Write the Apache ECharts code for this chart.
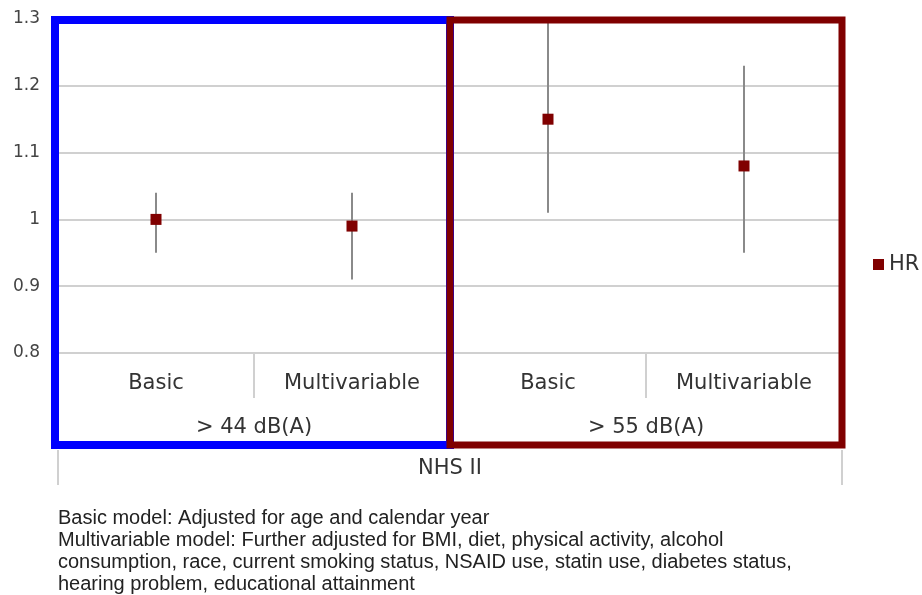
<!DOCTYPE html>
<html>
<head>
<meta charset="utf-8">
<script src="https://cdn.jsdelivr.net/npm/echarts@6/dist/echarts.min.js"></script>
<style>html,body{margin:0;padding:0;background:#fff}#c{width:922px;height:595px}</style>
</head>
<body>
<div id="c"></div>
<script>
const categories = ['Basic', 'Multivariable', 'Basic', 'Multivariable'];
const groups = ['> 44 dB(A)', '> 55 dB(A)'];
const cohort = ['NHS II'];
const hr = [1.00, 0.99, 1.15, 1.08];
const lower = [0.95, 0.91, 1.01, 0.95];
const upper = [1.04, 1.04, 1.30, 1.23];
const footnote = [
  'Basic model: Adjusted for age and calendar year',
  'Multivariable model: Further adjusted for BMI, diet, physical activity, alcohol',
  'consumption, race, current smoking status, NSAID use, statin use, diabetes status,',
  'hearing problem, educational attainment'
];

const FONT = 'DejaVu Sans';
const chart = echarts.init(document.getElementById('c'), null, {renderer: 'canvas'});
const gridLeft = 58, gridRight = 80, gridTop = 19, gridBottom = 242;

chart.setOption({
  animation: false,
  backgroundColor: '#fff',
  textStyle: {fontFamily: FONT},
  title: {
    text: footnote.join('\n'),
    left: 53, top: 502,
    textStyle: {fontFamily: "'Liberation Sans Narrow', 'Liberation Sans', sans-serif", fontSize: 20, fontWeight: 'normal', color: '#222', lineHeight: 22}
  },
  legend: {
    orient: 'vertical', left: 868, top: 249, itemGap: 5,
    itemWidth: 11, itemHeight: 11, icon: 'rect',
    data: ['HR'],
    textStyle: {fontFamily: FONT, fontSize: 21, color: '#333'}
  },
  grid: {left: gridLeft, right: gridRight, top: gridTop, bottom: gridBottom, containLabel: false},
  xAxis: [
    {
      type: 'category', data: categories, position: 'bottom', offset: 0,
      axisLine: {show: true, lineStyle: {color: '#d0d0d0', width: 2}},
      axisTick: {show: true, length: 45, lineStyle: {color: '#d0d0d0', width: 2}},
      axisLabel: {margin: 20, fontSize: 21, color: '#333', fontFamily: FONT}
    },
    {
      type: 'category', data: groups, position: 'bottom', offset: 0,
      axisLine: {show: false}, axisTick: {show: false},
      axisLabel: {margin: 64, fontSize: 21, color: '#333', fontFamily: FONT}
    },
    {
      type: 'category', data: cohort, position: 'bottom', offset: 97,
      axisLine: {show: false},
      axisTick: {show: true, length: 35, lineStyle: {color: '#d0d0d0', width: 2}},
      axisLabel: {margin: 8, fontSize: 21, color: '#333', fontFamily: FONT}
    }
  ],
  yAxis: {
    type: 'value', min: 0.8, max: 1.3, interval: 0.1,
    axisLine: {show: false}, axisTick: {show: false},
    axisLabel: {margin: 18, fontSize: 17, color: '#444', fontFamily: FONT,
      formatter: v => String(Math.round(v * 10) / 10)},
    splitLine: {show: true, lineStyle: {color: '#d0d0d0', width: 2}}
  },
  series: [
    {
      name: 'CI', type: 'custom', xAxisIndex: 0, yAxisIndex: 0, z: 2,
      data: categories.map((c, i) => [i, lower[i], upper[i]]),
      renderItem: function (params, api) {
        const x = api.value(0);
        const lo = api.coord([x, api.value(1)]);
        const hi = api.coord([x, api.value(2)]);
        return {type: 'line', shape: {x1: lo[0], y1: lo[1], x2: hi[0], y2: hi[1]},
          style: {stroke: '#8a8a8a', lineWidth: 2}};
      }
    },
    {
      name: 'HR', type: 'scatter', xAxisIndex: 0, yAxisIndex: 0, z: 3,
      symbol: 'rect', symbolSize: 11,
      itemStyle: {color: '#800000', opacity: 1},
      data: hr.map((v, i) => [i, v])
    }
  ]
});

// Outline boxes around each exposure group, positioned from the axes
const half = (chart.convertToPixel({xAxisIndex: 0}, 1) - chart.convertToPixel({xAxisIndex: 0}, 0)) / 2;
const xStart = chart.convertToPixel({xAxisIndex: 0}, 0) - half;
const xMid = chart.convertToPixel({xAxisIndex: 0}, 1) + half;
const xEnd = chart.convertToPixel({xAxisIndex: 0}, 3) + half;
const yTop = chart.convertToPixel({yAxisIndex: 0}, 1.3) + 1;
const yBot = chart.convertToPixel({yAxisIndex: 0}, 0.8) + 92;
chart.setOption({
  graphic: [
    {type: 'rect', z: 10, shape: {x: xStart - 3, y: yTop, width: xMid - xStart + 3, height: yBot - yTop},
      style: {fill: 'none', stroke: '#0000ff', lineWidth: 8}},
    {type: 'rect', z: 11, shape: {x: xMid, y: yTop, width: xEnd - xMid, height: yBot - yTop},
      style: {fill: 'none', stroke: '#800000', lineWidth: 7}}
  ]
});
</script>
</body>
</html>
